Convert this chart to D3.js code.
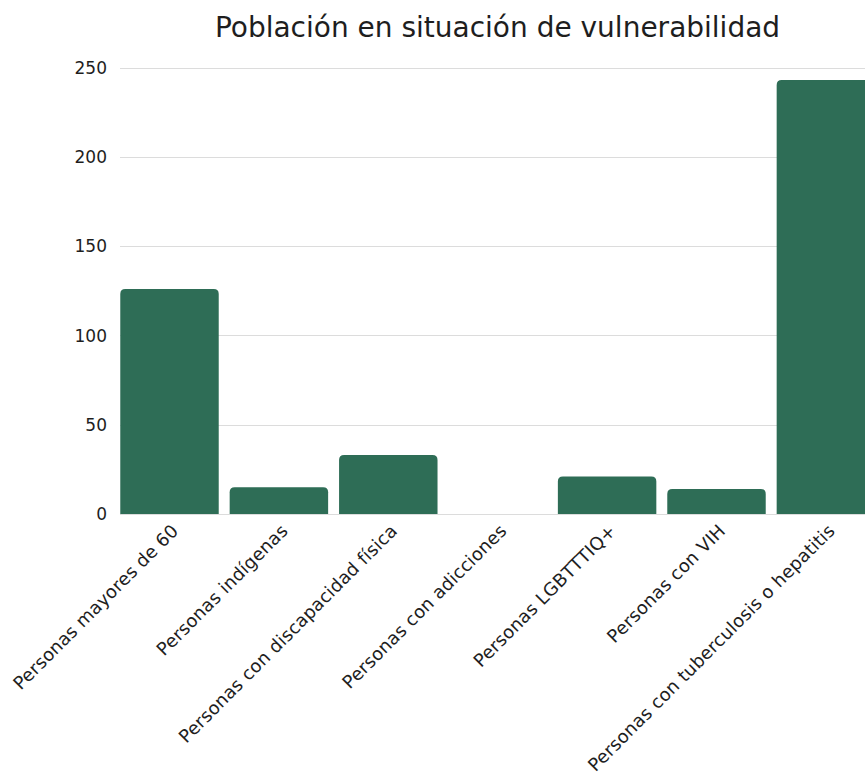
<!DOCTYPE html>
<html><head><meta charset="utf-8">
<script src="https://cdn.jsdelivr.net/npm/d3@7"></script>
<style>
html,body{margin:0;padding:0;background:#fff;}
svg{display:block;}
text{font-family:"DejaVu Sans",sans-serif;fill:#1e1e1e;}
</style></head>
<body>
<script>
const categories = ["Personas mayores de 60","Personas indígenas","Personas con discapacidad física","Personas con adicciones","Personas LGBTTTIQ+","Personas con VIH","Personas con tuberculosis o hepatitis"];
const values = [126, 15, 33, 0, 21, 14, 243];
const yTicks = [0, 50, 100, 150, 200, 250];
const title = "Población en situación de vulnerabilidad";

const W = 865, H = 778;
const svg = d3.select("body").append("svg").attr("width", W).attr("height", H);

const x = d3.scaleBand().domain(categories).range([114.8, 880.6]).paddingInner(0.1).paddingOuter(0.05);
const y = d3.scaleLinear().domain([0, 250]).range([514, 67.5]);

// grid
svg.append("g").selectAll("line").data(yTicks).join("line")
  .attr("x1", 120).attr("x2", 880)
  .attr("y1", d => Math.round(y(d)) + 0.5).attr("y2", d => Math.round(y(d)) + 0.5)
  .attr("stroke", "#dcdcdc").attr("stroke-width", 1);

// y labels
svg.append("g").selectAll("text").data(yTicks).join("text")
  .attr("x", 107).attr("y", d => y(d)).attr("dy", "0.36em")
  .attr("text-anchor", "end").attr("font-size", 17).text(d => d);

// bars with rounded top corners
const r = 5;
function barPath(d, i) {
  const x0 = x(categories[i]), w = x.bandwidth(), y0 = y(0), y1 = y(d);
  const h = y0 - y1;
  if (h <= 0) return "";
  const rr = Math.min(r, h, w / 2);
  return `M${x0},${y0}V${y1 + rr}Q${x0},${y1} ${x0 + rr},${y1}H${x0 + w - rr}Q${x0 + w},${y1} ${x0 + w},${y1 + rr}V${y0}Z`;
}
svg.append("g").selectAll("path").data(values).join("path")
  .attr("d", (d, i) => barPath(d, i)).attr("fill", "#2e6d56");

// x labels
svg.append("g").selectAll("text").data(categories).join("text")
  .attr("transform", d => `translate(${x(d) + x.bandwidth() / 2 + 10},${532}) rotate(-45)`)
  .attr("text-anchor", "end").attr("font-size", 18).attr("letter-spacing", 0.15).text(d => d);

// title
svg.append("text").attr("x", 497.5).attr("y", 37).attr("text-anchor", "middle")
  .attr("font-size", 28).text(title);
</script>
</body></html>
